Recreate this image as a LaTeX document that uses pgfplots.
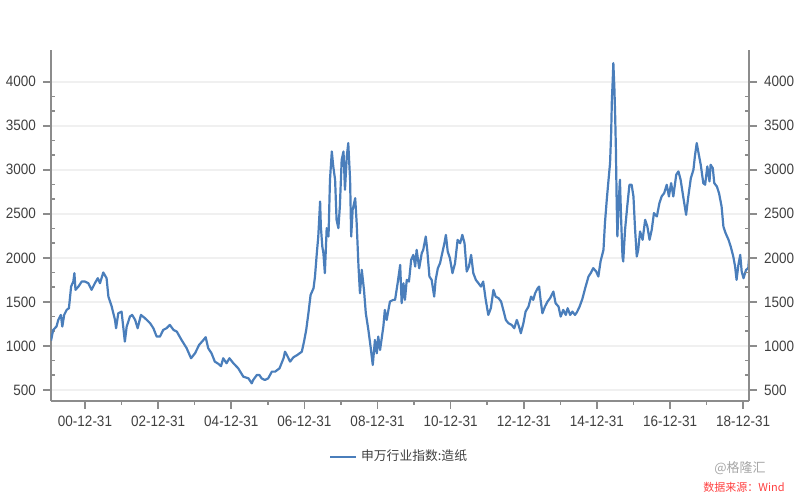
\documentclass[border=0pt]{standalone}
\usepackage{pgfplots}
\pgfplotsset{compat=1.18}
\usepackage{fontspec}
\setmainfont{Liberation Sans}
\newfontfamily\tickfont[FakeStretch=0.9]{Liberation Sans}
\newfontfamily\cjk{Noto Sans CJK SC}
\definecolor{serie}{HTML}{4A7EBB}
\definecolor{axgray}{HTML}{8C8C8C}
\definecolor{txt}{HTML}{404040}
\definecolor{gridc}{HTML}{F0F0F0}
\begin{document}
\begin{tikzpicture}
\pgfplotsset{
  base/.style={
    scale only axis, width=349pt, height=175.35pt,
    at={(25.5pt,49.65pt)}, anchor=south west,
    xmin=2000.07, xmax=2019.16, ymin=378, ymax=4360,
    ytick={500,1000,...,4000},
    minor y tick num=2,
    tick align=outside,
    major tick length=4pt, minor tick length=2pt,
    tick style={axgray, line width=0.8pt},
    axis line style={axgray, line width=1.2pt},
    tick label style={font=\tickfont\fontsize{7.5}{8}\selectfont, text=txt},
    /pgf/number format/assume math mode=true,
    /pgf/number format/1000 sep={},
  }
}
\begin{axis}[base,
  axis x line*=bottom, axis y line*=left,
  xtick={2001,2003,...,2019},
  xticklabels={00-12-31,02-12-31,04-12-31,06-12-31,08-12-31,10-12-31,12-12-31,14-12-31,16-12-31,18-12-31},
  minor x tick num=1,
  ymajorgrids, major grid style={gridc, line width=0.8pt},
  every minor y tick/.append style={xshift=2pt},
  legend style={draw=none, fill=none, at={(0.5,-0.16)}, anchor=center,
    font=\cjk\fontsize{6.4}{7}\selectfont, text=txt},
  legend image code/.code={\draw[#1] (0pt,0pt) -- (13pt,0pt);},
  clip=true,
]
\addplot[serie, line width=1.1pt, line join=round] coordinates {
(2000.07,1060)(2000.13,1182)(2000.22,1220)(2000.27,1296)(2000.34,1352)(2000.38,1220)(2000.43,1352)(2000.50,1410)(2000.56,1428)(2000.62,1674)(2000.68,1731)(2000.71,1826)(2000.74,1637)(2000.82,1674)(2000.91,1731)
(2001.00,1731)(2001.09,1712)(2001.18,1637)(2001.27,1712)(2001.35,1769)(2001.41,1712)(2001.50,1834)(2001.59,1769)(2001.64,1561)(2001.73,1447)(2001.82,1296)(2001.85,1201)(2001.91,1371)
(2002.00,1390)(2002.09,1049)(2002.14,1220)(2002.23,1334)(2002.29,1352)(2002.37,1296)(2002.44,1201)(2002.53,1352)(2002.64,1315)(2002.78,1258)(2002.87,1201)(2002.96,1106)
(2003.05,1106)(2003.14,1182)(2003.23,1201)(2003.32,1239)(2003.42,1182)(2003.51,1163)(2003.64,1068)(2003.78,974)(2003.90,860)
(2004.01,917)(2004.12,1011)(2004.24,1068)(2004.30,1099)(2004.37,974)(2004.46,917)(2004.55,822)(2004.65,796)(2004.72,770)(2004.78,860)(2004.87,803)(2004.95,860)
(2005.06,803)(2005.19,746)(2005.33,651)(2005.47,632)(2005.56,575)(2005.60,613)(2005.70,670)(2005.77,670)(2005.83,632)(2005.92,613)
(2006.01,632)(2006.11,708)(2006.20,708)(2006.32,746)(2006.43,860)(2006.47,935)(2006.52,898)(2006.61,822)(2006.70,871)(2006.81,898)(2006.93,935)(2006.99,1049)
(2007.05,1182)(2007.11,1371)(2007.17,1579)(2007.25,1655)(2007.29,1788)(2007.34,2053)(2007.38,2242)(2007.43,2640)(2007.45,2356)(2007.49,2129)(2007.52,2053)(2007.56,1826)(2007.61,2337)(2007.66,2242)(2007.70,2886)(2007.75,3208)(2007.79,3038)(2007.84,2886)(2007.88,2432)(2007.93,2337)(2007.97,2583)
(2008.02,3113)(2008.07,3208)(2008.11,2773)(2008.16,3151)(2008.20,3303)(2008.25,2886)(2008.28,2242)(2008.32,2545)(2008.39,2678)(2008.43,2394)(2008.48,1901)(2008.52,1598)(2008.57,1864)(2008.63,1636)(2008.68,1371)(2008.75,1182)(2008.81,992)(2008.87,784)(2008.93,1068)(2008.98,916)
(2009.02,1106)(2009.07,954)(2009.16,1220)(2009.20,1409)(2009.25,1295)(2009.34,1504)(2009.43,1523)(2009.48,1523)(2009.55,1712)(2009.62,1920)(2009.66,1485)(2009.71,1712)(2009.75,1523)(2009.80,1750)(2009.86,1731)(2009.92,1977)(2009.98,2034)
(2010.03,1901)(2010.07,2091)(2010.14,1882)(2010.21,2053)(2010.25,2091)(2010.32,2242)(2010.36,2091)(2010.42,1788)(2010.48,1750)(2010.55,1560)(2010.59,1750)(2010.65,1882)(2010.71,1939)(2010.77,2053)(2010.83,2166)(2010.87,2261)(2010.92,2072)(2010.98,1996)
(2011.05,1826)(2011.12,1939)(2011.19,2204)(2011.26,2166)(2011.32,2261)(2011.38,2166)(2011.44,1845)(2011.50,1901)(2011.56,2034)(2011.62,1826)(2011.69,1750)(2011.76,1712)(2011.83,1674)(2011.89,1731)(2011.96,1523)
(2012.03,1352)(2012.10,1428)(2012.17,1636)(2012.23,1560)(2012.31,1542)(2012.38,1504)(2012.44,1409)(2012.51,1295)(2012.58,1258)(2012.67,1238)(2012.74,1201)(2012.81,1295)(2012.87,1220)(2012.92,1144)(2012.99,1258)
(2013.05,1390)(2013.13,1447)(2013.20,1560)(2013.26,1523)(2013.31,1598)(2013.38,1655)(2013.42,1674)(2013.46,1523)(2013.51,1371)(2013.58,1447)(2013.65,1504)(2013.72,1542)(2013.81,1617)(2013.87,1485)(2013.95,1447)
(2014.01,1333)(2014.08,1409)(2014.15,1352)(2014.20,1428)(2014.27,1352)(2014.33,1390)(2014.40,1352)(2014.45,1380)(2014.52,1440)(2014.60,1530)(2014.68,1656)(2014.77,1788)(2014.83,1826)(2014.90,1883)(2014.98,1845)
(2015.04,1788)(2015.10,1959)(2015.18,2091)(2015.22,2394)(2015.27,2659)(2015.31,2849)(2015.36,3076)(2015.39,3417)(2015.41,3796)(2015.43,3985)(2015.45,4212)(2015.48,3909)(2015.50,3606)(2015.52,3228)(2015.54,2659)(2015.56,2243)(2015.60,2659)(2015.63,2887)(2015.66,2470)(2015.70,2015)(2015.72,1959)(2015.77,2319)(2015.83,2584)(2015.89,2830)(2015.95,2830)
(2016.00,2697)(2016.04,2356)(2016.09,2015)(2016.13,2091)(2016.18,2300)(2016.25,2205)(2016.32,2432)(2016.38,2356)(2016.44,2205)(2016.50,2319)(2016.56,2508)(2016.64,2470)(2016.71,2622)(2016.77,2697)(2016.84,2735)(2016.91,2830)(2016.97,2697)
(2017.03,2849)(2017.09,2697)(2017.17,2944)(2017.23,2981)(2017.29,2887)(2017.36,2697)(2017.44,2489)(2017.50,2697)(2017.57,2906)(2017.64,3000)(2017.68,3152)(2017.73,3303)(2017.78,3190)(2017.84,3057)(2017.91,2849)(2017.96,2830)
(2018.02,3038)(2018.08,2868)(2018.11,3057)(2018.17,3019)(2018.21,2849)(2018.28,2811)(2018.34,2735)(2018.41,2584)(2018.46,2356)(2018.52,2281)(2018.60,2205)(2018.66,2129)(2018.73,2015)(2018.78,1902)(2018.82,1750)(2018.87,1921)(2018.92,2034)(2018.96,1845)
(2019.01,1769)(2019.08,1864)(2019.14,1883)(2019.16,1990)
};
\addlegendentry{申万行业指数:造纸}
\node[font=\cjk\fontsize{5}{5}\selectfont, text=txt, anchor=south west, inner sep=0.5pt] at (rel axis cs:0,1) {点};
\node[font=\cjk\fontsize{5}{5}\selectfont, text=txt, anchor=south east, inner sep=0.5pt] at (rel axis cs:1,1) {点};
\end{axis}
\begin{axis}[base,
  hide x axis, axis y line*=right,
  every minor y tick/.append style={xshift=-2pt},
]
\addplot[draw=none] coordinates {(2005,1000)};
\end{axis}
\node[font=\cjk\fontsize{6.5}{7}\selectfont, text=gray!70] at (370pt,16pt) {@格隆汇};
\node[font=\cjk\fontsize{5.5}{6}\selectfont, text=red!75] at (372pt,6.5pt) {数据来源：Wind};
\pgfresetboundingbox
\path[use as bounding box] (0,0) rectangle (400pt,250pt);
\end{tikzpicture}
\end{document}
